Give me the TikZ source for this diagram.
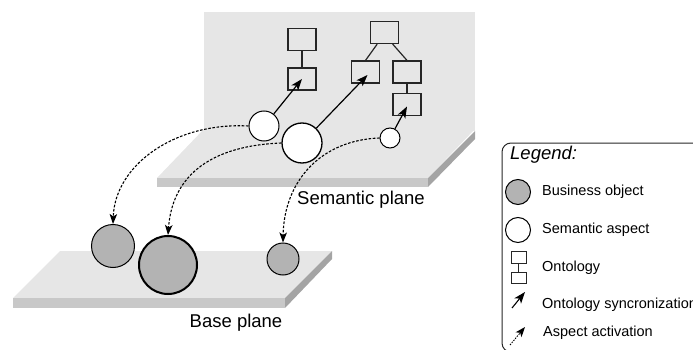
\documentclass[tikz,border=0pt]{standalone}
\usepackage{fontspec}
\setmainfont{Liberation Sans}
\usetikzlibrary{arrows.meta,calc}
\definecolor{planetop}{HTML}{E6E6E6}
\definecolor{planefront}{HTML}{C8C8C8}
\definecolor{planeside}{HTML}{A4A4A4}
\definecolor{bizgray}{HTML}{B3B3B3}
\tikzset{
  onto/.style={draw=black!85, line width=1.2pt, minimum width=28pt, minimum height=22pt, inner sep=0pt},
  ontosmall/.style={draw=black!85, line width=0.9pt, minimum width=15pt, minimum height=11.5pt, inner sep=0pt},
  aspect/.style={circle, draw=black, fill=white, line width=1pt, inner sep=0pt},
  biz/.style={circle, draw=black, fill=bizgray, line width=1pt, inner sep=0pt},
  treeline/.style={draw=black!85, line width=1.2pt},
  syncarrow/.style={draw=black, line width=1.2pt, -{Stealth[length=11.5pt,width=8.5pt,inset=3pt]}},
  activarrow/.style={draw=black, line width=1.1pt, dash pattern=on 2.6pt off 1.6pt, -{Stealth[length=10pt,width=7.5pt,inset=2.5pt]}},
  planelabel/.style={font=\fontsize{18.5}{20}\selectfont, inner sep=0pt},
  legtext/.style={font=\fontsize{14.5}{16}\selectfont, anchor=west, inner sep=0pt},
}
\begin{document}
\begin{tikzpicture}[x=1pt,y=-1pt]
\useasboundingbox (0,0) rectangle (693,350);
\clip (0,0) rectangle (693,350);
% semantic plane
\fill[planetop] (204,12) rectangle (475,131);
\fill[planetop] (204,129) -- (475,129) -- (428,178) -- (157,178) -- cycle;
\fill[planefront] (157,178) rectangle (428,187);
\fill[planeside] (475,131) -- (475,139) -- (428,187) -- (428,178) -- cycle;
% base plane
\fill[planetop] (60,251) -- (332,251) -- (285,298) -- (13,298) -- cycle;
\fill[planefront] (13,298) rectangle (285,308);
\fill[planeside] (332,251) -- (332,259) -- (285,308) -- (285,298) -- cycle;
% labels
\node[planelabel] (semlabel) at (361,200) {Semantic plane};
\node[planelabel] (baselabel) at (236,323) {Base plane};
% ontology trees
\node[onto] (o1t) at (302,39.5) {};
\node[onto] (o1b) at (302,79) {};
\node[onto] (o2r) at (384.5,32.5) {};
\node[onto] (o2l) at (365.5,72) {};
\node[onto] (o2c) at (407,72) {};
\node[onto] (o2g) at (407,104.5) {};
\draw[treeline] (o1t) -- (o1b);
\draw[treeline] ($(o2r.south west)!0.25!(o2r.south east)$) -- (o2l.north);
\draw[treeline] ($(o2r.south west)!0.78!(o2r.south east)$) -- (o2c.north);
\draw[treeline] (o2c) -- (o2g);
% semantic aspects
\node[aspect, minimum size=30pt] (s1) at (264,126) {};
\node[aspect, minimum size=40pt, line width=1.3pt] (s2) at (302,143) {};
\node[aspect, minimum size=20pt] (s3) at (390,138) {};
% business objects
\node[biz, minimum size=43pt] (b1) at (113,246) {};
\node[biz, minimum size=58pt, line width=2pt] (b2) at (168,265) {};
\node[biz, minimum size=32pt] (b3) at (283,259) {};
% sync arrows
\draw[syncarrow] (s1) -- (o1b.center);
\draw[syncarrow] (s2) -- ($(o2l.center)+(2,3)$);
\draw[syncarrow] (s3) -- ($(o2g.center)+(0,2)$);
% activation arrows
\draw[activarrow] (s1.west) .. controls (175,122) and (115,165) .. (b1.north);
\draw[activarrow] (s2.west) .. controls (205,146) and (172,180) .. (b2.north);
\draw[activarrow] (s3.west) .. controls (322,140) and (284,180) .. (b3.north);
% legend
\draw[black!85, line width=1pt, rounded corners=9pt] (693,143) -- (502,143) -- (502,352) -- (600,352);
\node[font=\fontsize{18.5}{20}\selectfont\itshape, anchor=west, inner sep=0pt] (legtitle) at (510,155) {Legend:};
\node[biz, minimum size=25pt] (lb) at (518,192) {};
\node[legtext] (lbt) at (542,192) {Business object};
\node[aspect, minimum size=25pt] (la) at (518,230) {};
\node[legtext] (lat) at (542,230) {Semantic aspect};
\node[ontosmall] (lot) at (518.5,257.5) {};
\node[ontosmall] (lob) at (518.5,278) {};
\draw[draw=black!85, line width=0.9pt] (lot) -- (lob);
\node[legtext] (lott) at (542,268) {Ontology};
\coordinate (lsa) at (512,308);
\coordinate (lsb) at (525,292);
\draw[syncarrow, line width=1.1pt] (lsa) -- (lsb);
\node[legtext] (lst) at (542,305) {Ontology syncronization};
\coordinate (laa) at (510,345);
\coordinate (lab) at (525,327);
\draw[activarrow, line width=0.9pt, dash pattern=on 1.5pt off 1.2pt] (laa) -- (lab);
\node[legtext] (lact) at (543,333) {Aspect activation};
\end{tikzpicture}
\end{document}
